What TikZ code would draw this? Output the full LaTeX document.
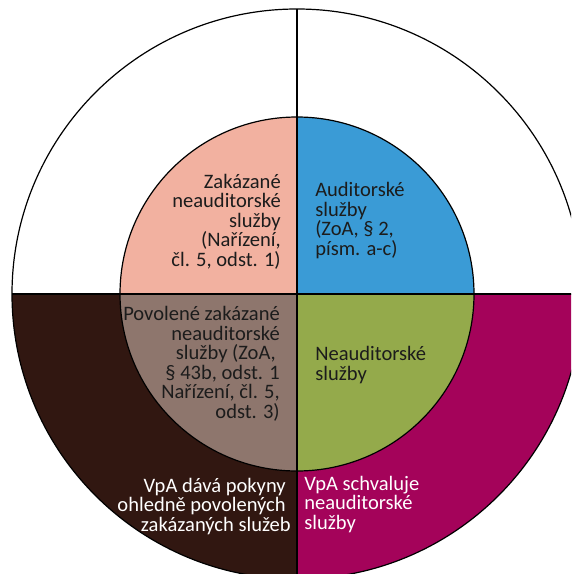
\documentclass[tikz,border=0pt]{standalone}
\usepackage{fontspec}
\setmainfont{Carlito}
\definecolor{salmonq}{RGB}{242,177,160}
\definecolor{blueq}{RGB}{58,155,214}
\definecolor{greenq}{RGB}{148,170,75}
\definecolor{taupeq}{RGB}{142,118,109}
\definecolor{brownq}{RGB}{49,23,17}
\definecolor{magentaq}{RGB}{164,3,90}
\definecolor{txtdark}{RGB}{28,28,28}
\newcommand\lblfont{\fontsize{15.4}{14.6}\selectfont\lineskiplimit=-20pt\relax}

\begin{document}
\begin{tikzpicture}[x=0.75pt,y=0.75pt,yscale=-1,xscale=1,
  lbl/.style={inner sep=0.75pt, text=txtdark, font=\lblfont},
  lblw/.style={lbl, text=white}]
\useasboundingbox (0,0) rectangle (571,574);
\clip (0,0) rectangle (571,574);
\coordinate (ctr) at (297,294);

%Shape: Arc outer lower left
\fill [brownq] (ctr) -- (12,294) arc [start angle=180, end angle=90, radius=285] -- cycle ;
%Shape: Arc outer lower right
\fill [magentaq] (ctr) -- (582,294) arc [start angle=0, end angle=90, radius=285] -- cycle ;
%Shape: Arc inner upper left
\fill [salmonq] (ctr) -- (120,294) arc [start angle=180, end angle=270, radius=177] -- cycle ;
%Shape: Arc inner upper right
\fill [blueq] (ctr) -- (474,294) arc [start angle=0, end angle=-90, radius=177] -- cycle ;
%Shape: Arc inner lower right
\fill [greenq] (ctr) -- (474,294) arc [start angle=0, end angle=90, radius=177] -- cycle ;
%Shape: Arc inner lower left
\fill [taupeq] (ctr) -- (120,294) arc [start angle=180, end angle=90, radius=177] -- cycle ;

%Shape: Circle outer
\draw [line width=0.9pt] (ctr) circle (285) ;
%Shape: Circle inner
\draw [line width=0.9pt] (ctr) circle (177) ;
%Straight Lines
\draw [line width=0.9pt] (12,294) -- (582,294) ;
\draw [line width=0.9pt] (297,9) -- (297,579) ;

% Text Node (anchor at baseline of last line)
\node (zakazane) [lbl, anchor=base east, align=right] at (282,266) {Zakázané\\neauditorské\\služby\\(Nařízení,\\čl. 5, odst. 1)};
% Text Node
\node (auditorske) [lbl, anchor=base west, align=left] at (314,255) {Auditorské\\služby\\(ZoA, § 2,\\písm. a-c)};
% Text Node
\node (povolene) [lbl, anchor=base east, align=right] at (281,418) {Povolené zakázané\\neauditorské\\služby (ZoA,\kern3pt\\§ 43b, odst. 1\\Nařízení, čl. 5,\\odst. 3)};
% Text Node
\node (neauditorske) [lbl, anchor=base west, align=left] at (314,380) {Neauditorské\\služby};
% Text Node
\node (pokyny) [lblw, anchor=base east, align=right] at (292,531) {VpA dává pokyny\kern3.75pt\\ohledně povolených\kern3.75pt\\zakázaných služeb};
% Text Node
\node (schvaluje) [lblw, anchor=base west, align=left] at (303,529) {VpA schvaluje\\neauditorské\\služby};

\end{tikzpicture}
\end{document}
